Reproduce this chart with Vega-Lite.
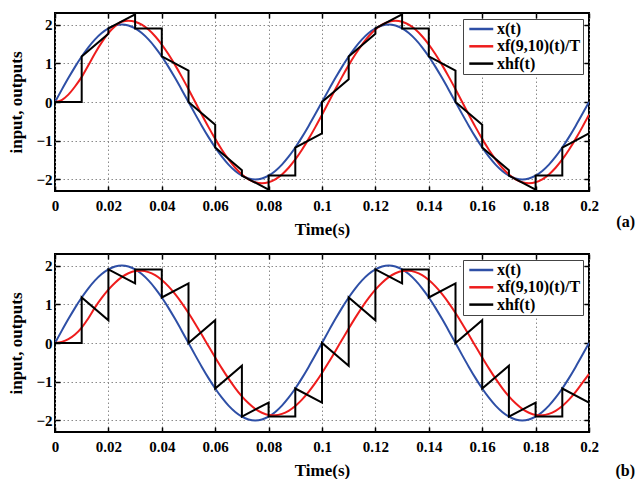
{
  "$schema": "https://vega.github.io/schema/vega-lite/v6.json",
  "padding": {"left": 6, "top": 11, "right": 0, "bottom": 0},
  "spacing": 14,
  "config": {
    "font": "Liberation Serif",
    "view": {"stroke": "black", "strokeWidth": 2},
    "axis": {
      "labelFontSize": 15, "labelFontWeight": "bold", "labelColor": "black",
      "titleFontSize": 17, "titleFontWeight": "bold", "titleColor": "black",
      "tickColor": "black", "tickWidth": 1.5, "tickSize": -5, "domain": false,
      "gridColor": "#8a8a8a", "gridDash": [1.5, 2.5], "gridWidth": 1, "gridOpacity": 1
    },
    "legend": {
      "orient": "top-right", "offset": 6, "title": null,
      "symbolType": "M-0.55,0H3", "symbolSize": 182, "symbolStrokeWidth": 2.5,
      "labelFontSize": 16, "labelFontWeight": "bold", "labelFont": "Liberation Serif", "labelColor": "black",
      "strokeColor": "#444444", "fillColor": "white", "padding": 2, "rowPadding": 1.3, "labelOffset": 16
    },
    "title": {"fontSize": 16, "fontWeight": "bold", "font": "Liberation Serif", "color": "black"}
  },
  "datasets": {
    "blue": [
      {"t":0,"v":0},{"t":0.0025,"v":0.313},{"t":0.005,"v":0.618},{"t":0.0075,"v":0.908},{"t":0.01,"v":1.176},{"t":0.0125,"v":1.414},{"t":0.015,"v":1.618},{"t":0.0175,"v":1.782},{"t":0.02,"v":1.902},{"t":0.0225,"v":1.975},
      {"t":0.025,"v":2},{"t":0.0275,"v":1.975},{"t":0.03,"v":1.902},{"t":0.0325,"v":1.782},{"t":0.035,"v":1.618},{"t":0.0375,"v":1.414},{"t":0.04,"v":1.176},{"t":0.0425,"v":0.908},{"t":0.045,"v":0.618},{"t":0.0475,"v":0.313},
      {"t":0.05,"v":0},{"t":0.0525,"v":-0.313},{"t":0.055,"v":-0.618},{"t":0.0575,"v":-0.908},{"t":0.06,"v":-1.176},{"t":0.0625,"v":-1.414},{"t":0.065,"v":-1.618},{"t":0.0675,"v":-1.782},{"t":0.07,"v":-1.902},{"t":0.0725,"v":-1.975},
      {"t":0.075,"v":-2},{"t":0.0775,"v":-1.975},{"t":0.08,"v":-1.902},{"t":0.0825,"v":-1.782},{"t":0.085,"v":-1.618},{"t":0.0875,"v":-1.414},{"t":0.09,"v":-1.176},{"t":0.0925,"v":-0.908},{"t":0.095,"v":-0.618},{"t":0.0975,"v":-0.313},
      {"t":0.1,"v":0},{"t":0.1025,"v":0.313},{"t":0.105,"v":0.618},{"t":0.1075,"v":0.908},{"t":0.11,"v":1.176},{"t":0.1125,"v":1.414},{"t":0.115,"v":1.618},{"t":0.1175,"v":1.782},{"t":0.12,"v":1.902},{"t":0.1225,"v":1.975},
      {"t":0.125,"v":2},{"t":0.1275,"v":1.975},{"t":0.13,"v":1.902},{"t":0.1325,"v":1.782},{"t":0.135,"v":1.618},{"t":0.1375,"v":1.414},{"t":0.14,"v":1.176},{"t":0.1425,"v":0.908},{"t":0.145,"v":0.618},{"t":0.1475,"v":0.313},
      {"t":0.15,"v":0},{"t":0.1525,"v":-0.313},{"t":0.155,"v":-0.618},{"t":0.1575,"v":-0.908},{"t":0.16,"v":-1.176},{"t":0.1625,"v":-1.414},{"t":0.165,"v":-1.618},{"t":0.1675,"v":-1.782},{"t":0.17,"v":-1.902},{"t":0.1725,"v":-1.975},
      {"t":0.175,"v":-2},{"t":0.1775,"v":-1.975},{"t":0.18,"v":-1.902},{"t":0.1825,"v":-1.782},{"t":0.185,"v":-1.618},{"t":0.1875,"v":-1.414},{"t":0.19,"v":-1.176},{"t":0.1925,"v":-0.908},{"t":0.195,"v":-0.618},{"t":0.1975,"v":-0.313},
      {"t":0.2,"v":0}
    ],
    "redA": [
      {"t":0,"v":0},{"t":0.0025,"v":0.05},{"t":0.005,"v":0.19},{"t":0.0075,"v":0.4},{"t":0.01,"v":0.65},{"t":0.0125,"v":0.95},{"t":0.015,"v":1.26},{"t":0.0175,"v":1.54},{"t":0.02,"v":1.78},{"t":0.0225,"v":1.96},
      {"t":0.025,"v":2.074},{"t":0.0275,"v":2.1},{"t":0.03,"v":2.074},{"t":0.0325,"v":1.997},{"t":0.035,"v":1.871},{"t":0.0375,"v":1.699},{"t":0.04,"v":1.485},{"t":0.0425,"v":1.234},{"t":0.045,"v":0.953},{"t":0.0475,"v":0.649},
      {"t":0.05,"v":0.329},{"t":0.0525,"v":0},{"t":0.055,"v":-0.329},{"t":0.0575,"v":-0.649},{"t":0.06,"v":-0.953},{"t":0.0625,"v":-1.234},{"t":0.065,"v":-1.485},{"t":0.0675,"v":-1.699},{"t":0.07,"v":-1.871},{"t":0.0725,"v":-1.997},
      {"t":0.075,"v":-2.074},{"t":0.0775,"v":-2.1},{"t":0.08,"v":-2.074},{"t":0.0825,"v":-1.997},{"t":0.085,"v":-1.871},{"t":0.0875,"v":-1.699},{"t":0.09,"v":-1.485},{"t":0.0925,"v":-1.234},{"t":0.095,"v":-0.953},{"t":0.0975,"v":-0.649},
      {"t":0.1,"v":-0.329},{"t":0.1025,"v":0},{"t":0.105,"v":0.329},{"t":0.1075,"v":0.649},{"t":0.11,"v":0.953},{"t":0.1125,"v":1.234},{"t":0.115,"v":1.485},{"t":0.1175,"v":1.699},{"t":0.12,"v":1.871},{"t":0.1225,"v":1.997},
      {"t":0.125,"v":2.074},{"t":0.1275,"v":2.1},{"t":0.13,"v":2.074},{"t":0.1325,"v":1.997},{"t":0.135,"v":1.871},{"t":0.1375,"v":1.699},{"t":0.14,"v":1.485},{"t":0.1425,"v":1.234},{"t":0.145,"v":0.953},{"t":0.1475,"v":0.649},
      {"t":0.15,"v":0.329},{"t":0.1525,"v":0},{"t":0.155,"v":-0.329},{"t":0.1575,"v":-0.649},{"t":0.16,"v":-0.953},{"t":0.1625,"v":-1.234},{"t":0.165,"v":-1.485},{"t":0.1675,"v":-1.699},{"t":0.17,"v":-1.871},{"t":0.1725,"v":-1.997},
      {"t":0.175,"v":-2.074},{"t":0.1775,"v":-2.1},{"t":0.18,"v":-2.074},{"t":0.1825,"v":-1.997},{"t":0.185,"v":-1.871},{"t":0.1875,"v":-1.699},{"t":0.19,"v":-1.485},{"t":0.1925,"v":-1.234},{"t":0.195,"v":-0.953},{"t":0.1975,"v":-0.649},
      {"t":0.2,"v":-0.329}
    ],
    "redB": [
      {"t":0,"v":0},{"t":0.0025,"v":0.03},{"t":0.005,"v":0.1},{"t":0.0075,"v":0.22},{"t":0.01,"v":0.4},{"t":0.0125,"v":0.64},{"t":0.015,"v":0.921},{"t":0.0175,"v":1.164},{"t":0.02,"v":1.379},{"t":0.0225,"v":1.559},
      {"t":0.025,"v":1.702},{"t":0.0275,"v":1.802},{"t":0.03,"v":1.858},{"t":0.0325,"v":1.868},{"t":0.035,"v":1.832},{"t":0.0375,"v":1.752},{"t":0.04,"v":1.628},{"t":0.0425,"v":1.463},{"t":0.045,"v":1.263},{"t":0.0475,"v":1.032},
      {"t":0.05,"v":0.775},{"t":0.0525,"v":0.5},{"t":0.055,"v":0.212},{"t":0.0575,"v":-0.082},{"t":0.06,"v":-0.373},{"t":0.0625,"v":-0.655},{"t":0.065,"v":-0.921},{"t":0.0675,"v":-1.164},{"t":0.07,"v":-1.379},{"t":0.0725,"v":-1.559},
      {"t":0.075,"v":-1.702},{"t":0.0775,"v":-1.802},{"t":0.08,"v":-1.858},{"t":0.0825,"v":-1.868},{"t":0.085,"v":-1.832},{"t":0.0875,"v":-1.752},{"t":0.09,"v":-1.628},{"t":0.0925,"v":-1.463},{"t":0.095,"v":-1.263},{"t":0.0975,"v":-1.032},
      {"t":0.1,"v":-0.775},{"t":0.1025,"v":-0.5},{"t":0.105,"v":-0.212},{"t":0.1075,"v":0.082},{"t":0.11,"v":0.373},{"t":0.1125,"v":0.655},{"t":0.115,"v":0.921},{"t":0.1175,"v":1.164},{"t":0.12,"v":1.379},{"t":0.1225,"v":1.559},
      {"t":0.125,"v":1.702},{"t":0.1275,"v":1.802},{"t":0.13,"v":1.858},{"t":0.1325,"v":1.868},{"t":0.135,"v":1.832},{"t":0.1375,"v":1.752},{"t":0.14,"v":1.628},{"t":0.1425,"v":1.463},{"t":0.145,"v":1.263},{"t":0.1475,"v":1.032},
      {"t":0.15,"v":0.775},{"t":0.1525,"v":0.5},{"t":0.155,"v":0.212},{"t":0.1575,"v":-0.082},{"t":0.16,"v":-0.373},{"t":0.1625,"v":-0.655},{"t":0.165,"v":-0.921},{"t":0.1675,"v":-1.164},{"t":0.17,"v":-1.379},{"t":0.1725,"v":-1.559},
      {"t":0.175,"v":-1.702},{"t":0.1775,"v":-1.802},{"t":0.18,"v":-1.858},{"t":0.1825,"v":-1.868},{"t":0.185,"v":-1.832},{"t":0.1875,"v":-1.752},{"t":0.19,"v":-1.628},{"t":0.1925,"v":-1.463},{"t":0.195,"v":-1.263},{"t":0.1975,"v":-1.032},
      {"t":0.2,"v":-0.8}
    ],
    "blackA": [
      {"i":0,"t":0,"v":0},{"i":1,"t":0.01,"v":0},{"i":2,"t":0.01,"v":1.176},{"i":3,"t":0.02,"v":1.764},{"i":4,"t":0.02,"v":1.902},{"i":5,"t":0.03,"v":2.265},{"i":6,"t":0.03,"v":1.902},{"i":7,"t":0.04,"v":1.902},{"i":8,"t":0.04,"v":1.176},{"i":9,"t":0.05,"v":0.813},
      {"i":10,"t":0.05,"v":0},{"i":11,"t":0.06,"v":-0.588},{"i":12,"t":0.06,"v":-1.176},{"i":13,"t":0.07,"v":-1.764},{"i":14,"t":0.07,"v":-1.902},{"i":15,"t":0.08,"v":-2.265},{"i":16,"t":0.08,"v":-1.902},{"i":17,"t":0.09,"v":-1.902},{"i":18,"t":0.09,"v":-1.176},{"i":19,"t":0.1,"v":-0.813},
      {"i":20,"t":0.1,"v":0},{"i":21,"t":0.11,"v":0.588},{"i":22,"t":0.11,"v":1.176},{"i":23,"t":0.12,"v":1.764},{"i":24,"t":0.12,"v":1.902},{"i":25,"t":0.13,"v":2.265},{"i":26,"t":0.13,"v":1.902},{"i":27,"t":0.14,"v":1.902},{"i":28,"t":0.14,"v":1.176},{"i":29,"t":0.15,"v":0.813},
      {"i":30,"t":0.15,"v":0},{"i":31,"t":0.16,"v":-0.588},{"i":32,"t":0.16,"v":-1.176},{"i":33,"t":0.17,"v":-1.764},{"i":34,"t":0.17,"v":-1.902},{"i":35,"t":0.18,"v":-2.265},{"i":36,"t":0.18,"v":-1.902},{"i":37,"t":0.19,"v":-1.902},{"i":38,"t":0.19,"v":-1.176},{"i":39,"t":0.2,"v":-0.813}
    ],
    "blackB": [
      {"i":0,"t":0,"v":0},{"i":1,"t":0.01,"v":0},{"i":2,"t":0.01,"v":1.176},{"i":3,"t":0.02,"v":0.588},{"i":4,"t":0.02,"v":1.902},{"i":5,"t":0.03,"v":1.539},{"i":6,"t":0.03,"v":1.902},{"i":7,"t":0.04,"v":1.902},{"i":8,"t":0.04,"v":1.176},{"i":9,"t":0.05,"v":1.539},
      {"i":10,"t":0.05,"v":0},{"i":11,"t":0.06,"v":0.588},{"i":12,"t":0.06,"v":-1.176},{"i":13,"t":0.07,"v":-0.588},{"i":14,"t":0.07,"v":-1.902},{"i":15,"t":0.08,"v":-1.539},{"i":16,"t":0.08,"v":-1.902},{"i":17,"t":0.09,"v":-1.902},{"i":18,"t":0.09,"v":-1.176},{"i":19,"t":0.1,"v":-1.539},
      {"i":20,"t":0.1,"v":0},{"i":21,"t":0.11,"v":-0.588},{"i":22,"t":0.11,"v":1.176},{"i":23,"t":0.12,"v":0.588},{"i":24,"t":0.12,"v":1.902},{"i":25,"t":0.13,"v":1.539},{"i":26,"t":0.13,"v":1.902},{"i":27,"t":0.14,"v":1.902},{"i":28,"t":0.14,"v":1.176},{"i":29,"t":0.15,"v":1.539},
      {"i":30,"t":0.15,"v":0},{"i":31,"t":0.16,"v":0.588},{"i":32,"t":0.16,"v":-1.176},{"i":33,"t":0.17,"v":-0.588},{"i":34,"t":0.17,"v":-1.902},{"i":35,"t":0.18,"v":-1.539},{"i":36,"t":0.18,"v":-1.902},{"i":37,"t":0.19,"v":-1.902},{"i":38,"t":0.19,"v":-1.176},{"i":39,"t":0.2,"v":-1.539}
    ]
  },
  "resolve": {"scale": {"color": "independent"}, "legend": {"color": "independent"}},
  "vconcat": [
    {
      "width": 534, "height": 178,
      "title": {"text": "(a)", "orient": "bottom", "anchor": "end", "frame": "group", "dx": 46, "dy": -27},
      "layer": [
        {
          "data": {"name": "blue"},
          "mark": {"type": "line", "strokeWidth": 2, "interpolate": "monotone", "clip": true},
          "encoding": {
            "x": {"field": "t", "type": "quantitative", "scale": {"domain": [0, 0.2], "nice": false},
                  "axis": {"orient": "bottom", "title": "Time(s)", "values": [0,0.02,0.04,0.06,0.08,0.1,0.12,0.14,0.16,0.18,0.2], "format": "~g", "labelPadding": 12, "titlePadding": 8, "grid": true, "labelFlush": false}},
            "y": {"field": "v", "type": "quantitative", "scale": {"domain": [-2.3, 2.3], "nice": false, "zero": false},
                  "axis": {"orient": "left", "title": "input, outputs", "values": [-2,-1,0,1,2], "labelPadding": 8, "titlePadding": 10, "grid": true}},
            "color": {"datum": "x(t)", "scale": {"domain": ["x(t)", "xf(9,10)(t)/T", "xhf(t)"], "range": ["#2E4FA6", "#EE1C1C", "#000000"]}}
          }
        },
        {
          "data": {"name": "redA"},
          "mark": {"type": "line", "strokeWidth": 2, "interpolate": "monotone", "clip": true},
          "encoding": {
            "x": {"field": "t", "type": "quantitative", "axis": {"orient": "top", "title": null, "labels": false, "grid": false, "values": [0,0.02,0.04,0.06,0.08,0.1,0.12,0.14,0.16,0.18,0.2]}},
            "y": {"field": "v", "type": "quantitative", "axis": {"orient": "right", "title": null, "labels": false, "grid": false, "values": [-2,-1,0,1,2]}},
            "color": {"datum": "xf(9,10)(t)/T"}
          }
        },
        {
          "data": {"name": "blackA"},
          "mark": {"type": "line", "strokeWidth": 2, "clip": true},
          "encoding": {
            "x": {"field": "t", "type": "quantitative", "axis": null},
            "y": {"field": "v", "type": "quantitative", "axis": null},
            "order": {"field": "i", "type": "quantitative"},
            "color": {"datum": "xhf(t)"}
          }
        }
      ]
    },
    {
      "width": 534, "height": 178,
      "title": {"text": "(b)", "orient": "bottom", "anchor": "end", "frame": "group", "dx": 46, "dy": -19},
      "layer": [
        {
          "data": {"name": "blue"},
          "mark": {"type": "line", "strokeWidth": 2, "interpolate": "monotone", "clip": true},
          "encoding": {
            "x": {"field": "t", "type": "quantitative", "scale": {"domain": [0, 0.2], "nice": false},
                  "axis": {"orient": "bottom", "title": "Time(s)", "values": [0,0.02,0.04,0.06,0.08,0.1,0.12,0.14,0.16,0.18,0.2], "format": "~g", "labelPadding": 12, "titlePadding": 8, "grid": true, "labelFlush": false}},
            "y": {"field": "v", "type": "quantitative", "scale": {"domain": [-2.3, 2.3], "nice": false, "zero": false},
                  "axis": {"orient": "left", "title": "input, outputs", "values": [-2,-1,0,1,2], "labelPadding": 8, "titlePadding": 10, "grid": true}},
            "color": {"datum": "x(t)", "scale": {"domain": ["x(t)", "xf(9,10)(t)/T", "xhf(t)"], "range": ["#2E4FA6", "#EE1C1C", "#000000"]}}
          }
        },
        {
          "data": {"name": "redB"},
          "mark": {"type": "line", "strokeWidth": 2, "interpolate": "monotone", "clip": true},
          "encoding": {
            "x": {"field": "t", "type": "quantitative", "axis": {"orient": "top", "title": null, "labels": false, "grid": false, "values": [0,0.02,0.04,0.06,0.08,0.1,0.12,0.14,0.16,0.18,0.2]}},
            "y": {"field": "v", "type": "quantitative", "axis": {"orient": "right", "title": null, "labels": false, "grid": false, "values": [-2,-1,0,1,2]}},
            "color": {"datum": "xf(9,10)(t)/T"}
          }
        },
        {
          "data": {"name": "blackB"},
          "mark": {"type": "line", "strokeWidth": 2, "clip": true},
          "encoding": {
            "x": {"field": "t", "type": "quantitative", "axis": null},
            "y": {"field": "v", "type": "quantitative", "axis": null},
            "order": {"field": "i", "type": "quantitative"},
            "color": {"datum": "xhf(t)"}
          }
        }
      ]
    }
  ]
}
